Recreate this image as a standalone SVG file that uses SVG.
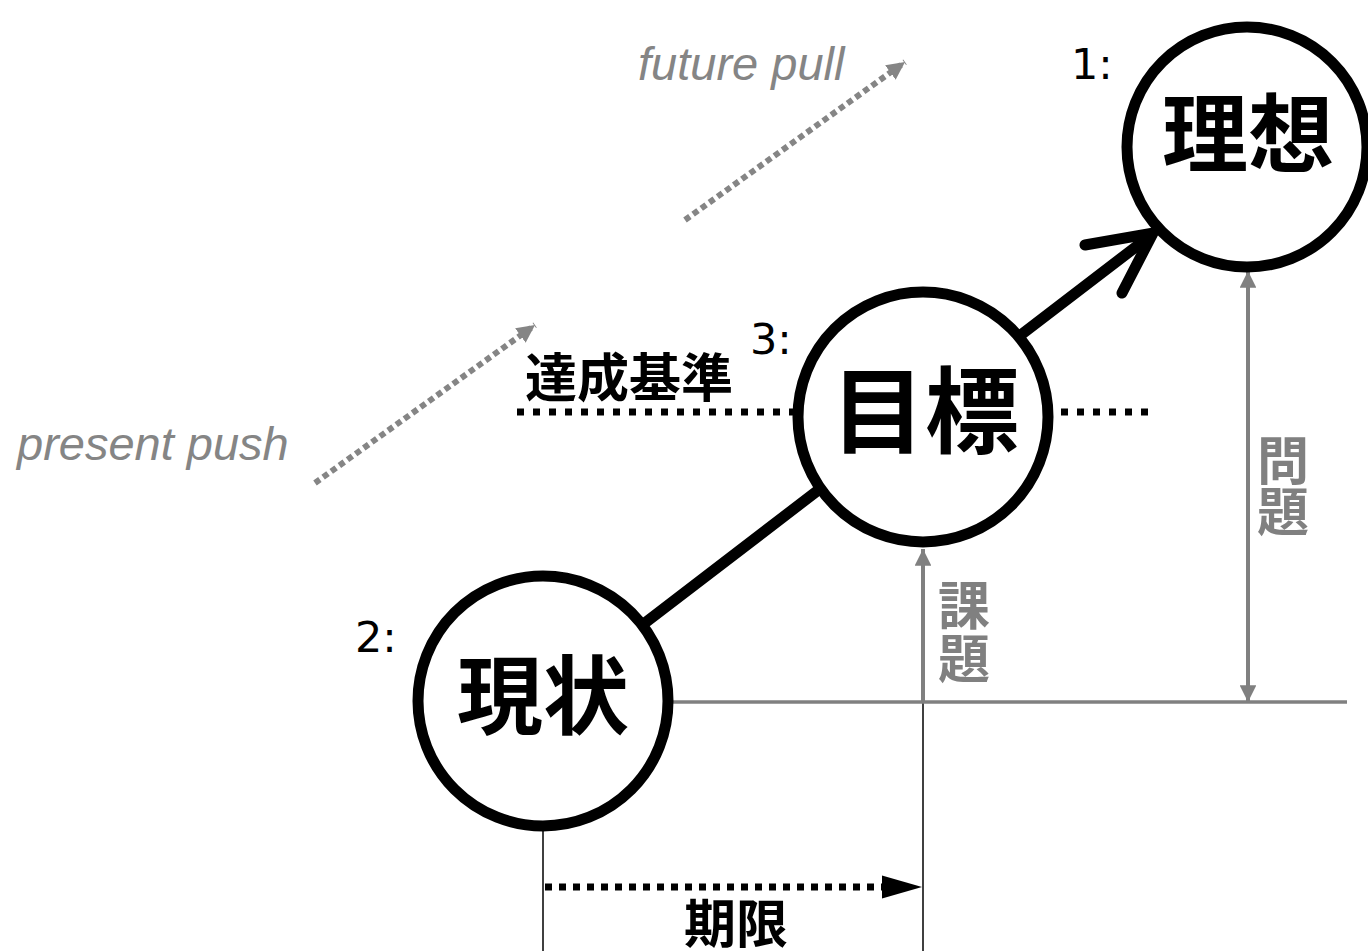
<svg xmlns="http://www.w3.org/2000/svg" width="1368" height="951" viewBox="0 0 1368 951">
  <style>
    .node { fill: #ffffff; stroke: #000000; stroke-width: 11; }
    .big { font-family: "Noto Sans CJK JP", sans-serif; font-weight: bold; fill: #000000; text-anchor: middle; }
    .num { font-family: "DejaVu Sans", sans-serif; font-size: 43px; fill: #000000; }
    .en { font-family: "Liberation Sans", Arial, sans-serif; font-style: italic; font-size: 47px; fill: #858585; }
    .gray { font-family: "Noto Sans CJK JP", sans-serif; font-weight: bold; font-size: 52px; fill: #808080; text-anchor: middle; }
    .lbl { font-family: "Noto Sans CJK JP", sans-serif; font-weight: bold; font-size: 52px; fill: #000000; }
    .gline { stroke: #808080; stroke-width: 4; fill: none; }
    .thin { stroke: #000000; stroke-width: 1.5; fill: none; }
    .gdot { stroke: #858585; stroke-width: 6; stroke-dasharray: 6 4; fill: none; }
  </style>
  <defs>
    <marker id="gArrow" viewBox="0 0 10 10" refX="10" refY="5" markerWidth="4.2" markerHeight="4.2" orient="auto-start-reverse" markerUnits="strokeWidth">
      <path d="M0,0 L10,5 L0,10 Z" fill="#808080"/>
    </marker>
    <marker id="gDotArrow" viewBox="0 0 10 10" refX="10" refY="5" markerWidth="3" markerHeight="3" orient="auto" markerUnits="strokeWidth">
      <path d="M0,0 L10,5 L0,10 Z" fill="#858585"/>
    </marker>
  </defs>

  <g id="connectors">
    <line x1="517" y1="412" x2="1150" y2="412" stroke="#000" stroke-width="7" stroke-dasharray="7 9"/>
    <line class="thin" x1="543" y1="830" x2="543" y2="951"/>
    <line class="thin" x1="923" y1="702" x2="923" y2="951"/>
    <line x1="543" y1="702" x2="1347" y2="702" stroke="#808080" stroke-width="3.5"/>
    <line class="gline" x1="923" y1="702" x2="923" y2="549" marker-end="url(#gArrow)"/>
    <line class="gline" x1="1248" y1="702" x2="1248" y2="271" marker-start="url(#gArrow)" marker-end="url(#gArrow)"/>
    <line x1="543" y1="701" x2="1150" y2="236" stroke="#000" stroke-width="11" stroke-linecap="round"/>
    <polyline points="1085,245 1153,233 1122,293" fill="none" stroke="#000" stroke-width="11" stroke-linecap="round" stroke-linejoin="miter"/>
    <line x1="545" y1="887" x2="884" y2="887" stroke="#000" stroke-width="7" stroke-dasharray="7 7"/>
    <path d="M882,875.5 L922,887 L882,898.5 Z" fill="#000"/>
    <line class="gdot" x1="315" y1="483" x2="535" y2="325" marker-end="url(#gDotArrow)"/>
    <line class="gdot" x1="685" y1="220" x2="905" y2="62" marker-end="url(#gDotArrow)"/>
  </g>

  <g id="node-ideal">
    <circle class="node" cx="1247" cy="147" r="120"/>
    <text class="big" x="1248" y="166" font-size="86">理想</text>
    <text class="num" x="1071" y="79">1:</text>
  </g>

  <g id="node-goal">
    <circle class="node" cx="923" cy="417" r="125"/>
    <text class="big" x="925" y="446" font-size="94">目標</text>
    <text class="num" x="750" y="354">3:</text>
  </g>

  <g id="node-current">
    <circle class="node" cx="543" cy="701" r="125"/>
    <text class="big" x="543" y="728" font-size="86">現状</text>
    <text class="num" x="355" y="652">2:</text>
  </g>

  <g id="labels">
    <text class="lbl" x="525" y="397">達成基準</text>
    <text class="lbl" x="736" y="943" text-anchor="middle">期限</text>
    <text class="gray"><tspan x="964" y="625">課</tspan><tspan x="964" y="678">題</tspan></text>
    <text class="gray"><tspan x="1283" y="480">問</tspan><tspan x="1283" y="531">題</tspan></text>
    <text class="en" x="17" y="460">present push</text>
    <text class="en" x="638" y="80">future pull</text>
  </g>
</svg>
